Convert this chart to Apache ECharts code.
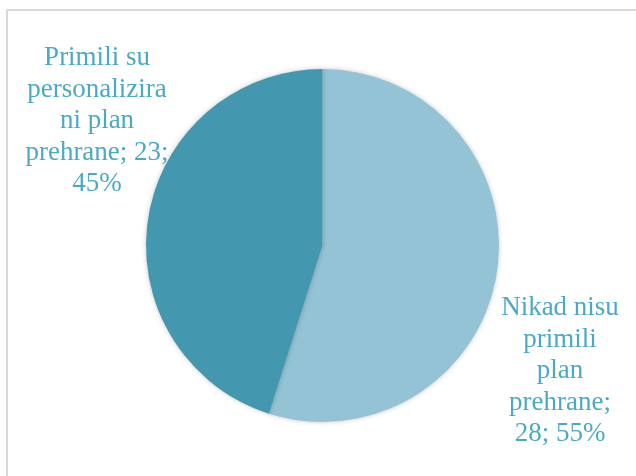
<!DOCTYPE html>
<html>
<head>
<meta charset="utf-8">
<script src="https://cdn.jsdelivr.net/npm/echarts@6/dist/echarts.min.js"></script>
<style>
html,body{margin:0;padding:0;background:#fff;}
#chart{width:636px;height:476px;}
</style>
</head>
<body>
<div id="chart"></div>
<script>
// Data
const categories = ['Nikad nisu\nprimili\nplan\nprehrane', 'Primili su\npersonalizira\nni plan\nprehrane'];
const values = [28, 23];
const colors = ['#93c3d4', '#4397ae'];
// label formatting pattern per slice (separators)
const labelPatterns = ['{b};\n{c}; {d}%', '{b}; {c};\n{d}%'];
const labelPositions = [[560, 371], [97, 121]];

const chart = echarts.init(document.getElementById('chart'), null, {renderer: 'canvas'});
const option = {
  backgroundColor: '#ffffff',
  animation: false,
  graphic: [{
    type: 'rect',
    shape: {x: 7, y: 10, width: 700, height: 600},
    style: {fill: 'none', stroke: '#d9d9d9', lineWidth: 2},
    silent: true,
    z: -10
  }],
  series: [{
    type: 'pie',
    center: [322.5, 245.5],
    radius: 176.5,
    startAngle: 90,
    clockwise: true,
    percentPrecision: 0,
    avoidLabelOverlap: false,
    itemStyle: {
      borderWidth: 0,
      shadowBlur: 5,
      shadowColor: 'rgba(0,0,0,0.22)'
    },
    label: {
      show: true,
      position: 'outside',
      color: '#4aaac4',
      fontFamily: 'Liberation Serif',
      fontSize: 27,
      lineHeight: 31.5,
      align: 'center',
      overflow: 'none',
      width: 300
    },
    labelLine: {show: false},
    labelLayout: function (params) {
      const p = labelPositions[params.dataIndex];
      return {x: p[0], y: p[1], align: 'center', verticalAlign: 'middle'};
    },
    data: categories.map((c, i) => ({
      name: c,
      value: values[i],
      itemStyle: {color: colors[i]},
      label: {formatter: labelPatterns[i]}
    }))
  }]
};
chart.setOption(option);
</script>
</body>
</html>
